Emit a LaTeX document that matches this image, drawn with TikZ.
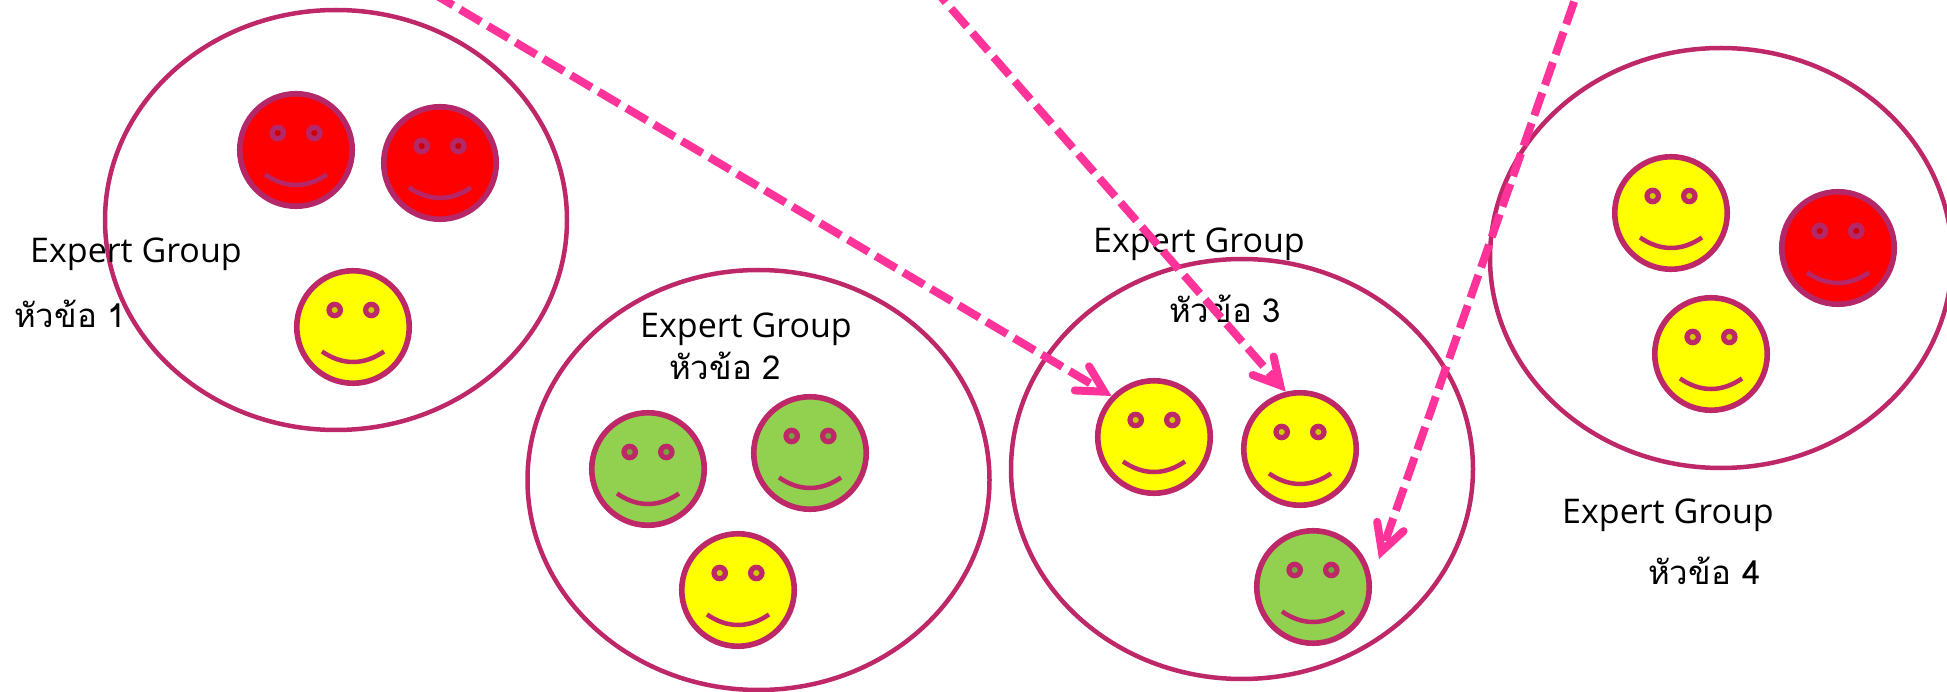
\documentclass[tikz,border=0pt]{standalone}
\usepackage{fontspec}
\usetikzlibrary{arrows.meta,shapes.geometric,calc}
\setmainfont{Open Sans}
\newfontfamily\thaitext[Script=Thai]{Loma}
\definecolor{ringcol}{HTML}{BE2868}
\definecolor{ringyellow}{HTML}{BE2868}
\definecolor{ringgreen}{HTML}{BE2868}
\definecolor{ringred}{HTML}{B4286A}
\definecolor{arrowcol}{HTML}{FF3399}
\definecolor{faceyellow}{HTML}{FFFF00}
\definecolor{facered}{HTML}{FF0000}
\definecolor{facegreen}{HTML}{92D050}
\definecolor{eyeyellow}{HTML}{CCCC00}
\definecolor{eyered}{HTML}{CC0000}
\definecolor{eyegreen}{HTML}{74A640}
\tikzset{
  groupring/.style={draw=ringcol,line width=4.5pt,ellipse,minimum width=462pt,minimum height=420pt,inner sep=0pt},
  facedisc/.style={circle,line width=5.6pt,minimum size=112.5pt,inner sep=0pt},
  jump/.style={draw=arrowcol,line width=8pt,dash pattern=on 24pt off 8.2pt,
    -{Straight Barb[length=26pt,width=28pt,line cap=round,line join=miter]}},
  engtext/.style={anchor=base west,inner sep=0pt,font=\fontsize{34}{40}\selectfont,text=black},
  thtext/.style={anchor=base west,inner sep=0pt,font=\thaitext\fontsize{33}{40}\selectfont,text=black},
}
\newcommand{\smiley}[4]{% name, x, y, kind
  \node[facedisc,draw=ring#4,fill=face#4] (#1) at (#2,#3) {};
  \path[draw=ring#4,line width=5.2pt,fill=eye#4] ($(#1)+(-18.3,-17)$) circle[radius=5.7pt];
  \path[draw=ring#4,line width=5.2pt,fill=eye#4] ($(#1)+(18.3,-17)$) circle[radius=5.7pt];
  \draw[ring#4,line width=4.5pt] ($(#1)+(-31,24.5)$) .. controls ($(#1)+(-10.5,38.5)$) and ($(#1)+(10.5,38.5)$) .. ($(#1)+(31,24.5)$);
}
\begin{document}
\begin{tikzpicture}[x=1pt,y=-1pt]
\useasboundingbox (0,0) rectangle (1947,692);
\clip (0,0) rectangle (1947,692);
\node[groupring] (g1) at (336,220) {};
\node[groupring] (g2) at (758.5,480) {};
\node[groupring] (g3) at (1242,469) {};
\node[groupring] (g4) at (1721,258) {};
\smiley{r1}{296}{150}{red}
\smiley{r2}{440}{163}{red}
\smiley{y1}{353}{327}{yellow}
\smiley{n1}{648}{469}{green}
\smiley{n2}{810}{453}{green}
\smiley{y2}{738}{590}{yellow}
\smiley{y3}{1154}{437}{yellow}
\smiley{y4}{1300}{449}{yellow}
\smiley{n3}{1313}{587}{green}
\smiley{y5}{1671}{213}{yellow}
\smiley{r3}{1838}{248}{red}
\smiley{y6}{1711}{354}{yellow}
\node[engtext] (e1) at (30,263) {Expert Group};
\node[thtext] (t1) at (14,328) {หัวข้อ 1};
\node[engtext] (e2) at (640,338) {Expert Group};
\node[thtext] (t2) at (669,380) {หัวข้อ 2};
\node[engtext] (e3) at (1093,253) {Expert Group};
\node[thtext] (t3) at (1169,323) {หัวข้อ 3};
\node[engtext] (e4) at (1562,523) {Expert Group};
\node[thtext] (t4) at (1648,584) {หัวข้อ 4};
\coordinate (s1) at (432.5,-6.9);
\coordinate (s2) at (930,-15.7);
\coordinate (s3) at (1584.8,-28.8);
\coordinate (a3end) at (1379,559);
\draw[jump] (s1) -- (y3.136);
\draw[jump] (s2) -- (y4.104);
\draw[jump] (s3) -- (a3end);
\end{tikzpicture}
\end{document}
